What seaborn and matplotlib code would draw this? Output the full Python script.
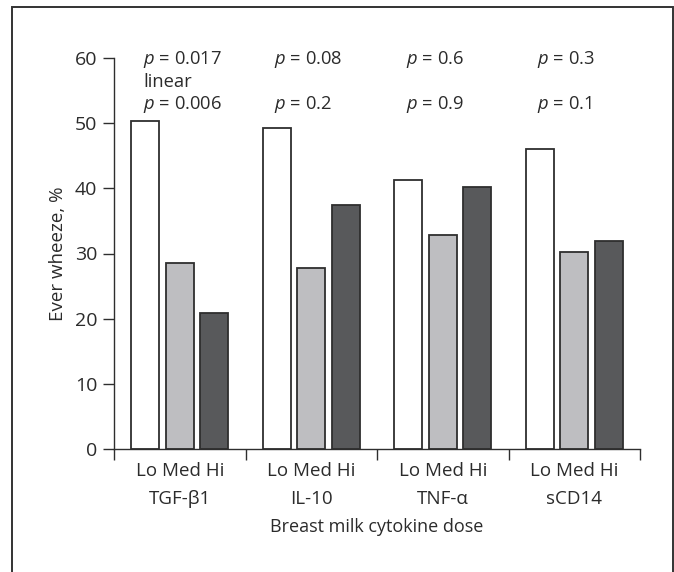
import matplotlib
matplotlib.use("Agg")
import matplotlib.pyplot as plt
import seaborn as sns
import pandas as pd
from matplotlib.patches import Rectangle

cytokines = ["TGF-\u03b21", "IL-10", "TNF-\u03b1", "sCD14"]
doses = ["Lo", "Med", "Hi"]
lo_vals = [50.3, 49.2, 41.3, 46.0]
med_vals = [28.6, 27.8, 32.9, 30.3]
hi_vals = [20.8, 37.5, 40.2, 31.9]
p_overall = ["0.017", "0.08", "0.6", "0.3"]
p_second = ["0.006", "0.2", "0.9", "0.1"]
yticks = [0, 10, 20, 30, 40, 50, 60]

rows = []
for i, c in enumerate(cytokines):
    for d, vals in zip(doses, [lo_vals, med_vals, hi_vals]):
        rows.append({"cytokine": c, "dose": d, "value": vals[i]})
df = pd.DataFrame(rows)

sns.set_theme(style="ticks")
plt.rcParams["font.family"] = ["Open Sans", "DejaVu Sans"]
plt.rcParams["mathtext.fontset"] = "custom"
plt.rcParams["mathtext.it"] = "Open Sans:italic"
plt.rcParams["mathtext.rm"] = "Open Sans"

txt = "#2b2b2b"
edge = "#2e2e2e"
fig = plt.figure(figsize=(6.74, 5.72), dpi=100)
ax = fig.add_axes([114/674, 1 - 449/572, (640 - 114)/674, (449 - 58)/572])

sns.barplot(data=df, x="cytokine", y="value", hue="dose", hue_order=doses,
            order=cytokines, palette=["#ffffff", "#bdbec1", "#58595b"],
            edgecolor=edge, linewidth=1.3, width=0.786, gap=0.187,
            legend=False, ax=ax)

ax.set_xlim(-0.5, 3.5)
ax.set_ylim(0, 60)
ax.set_yticks(yticks)
ax.tick_params(axis="y", direction="out", length=8, width=1, color=edge,
               labelsize=14, labelcolor=txt, pad=4)
ax.set_xticks(range(4))
ax.set_xticklabels(["Lo Med Hi\n" + c for c in cytokines], linespacing=1.75)
ax.tick_params(axis="x", which="major", length=0, labelsize=13.5, labelcolor=txt, pad=9)
ax.set_xticks([-0.5, 0.5, 1.5, 2.5, 3.5], minor=True)
ax.tick_params(axis="x", which="minor", direction="out", length=8, width=1, color=edge)

for s in ["top", "right"]:
    ax.spines[s].set_visible(False)
for s in ["left", "bottom"]:
    ax.spines[s].set_color(edge)
    ax.spines[s].set_linewidth(1)

ax.set_ylabel("Ever wheeze, %", fontsize=13.5, color=txt, labelpad=6)
ax.set_xlabel("Breast milk cytokine dose", fontsize=13, color=txt, labelpad=7)

for i in range(4):
    x = i - 0.28
    ax.text(x, 59.8, "$p$ = " + p_overall[i], fontsize=13.2, color=txt, va="center", ha="left")
    ax.text(x, 52.9, "$p$ = " + p_second[i], fontsize=13.2, color=txt, va="center", ha="left")
ax.text(-0.28, 56.3, "linear", fontsize=13.2, color=txt, va="center", ha="left")

fig.patches.append(Rectangle((12/674, -0.05), (672.5 - 12)/674, 1.05 - 7/572,
                             transform=fig.transFigure, fill=False,
                             edgecolor="#333333", linewidth=1.4))

fig.savefig("out.png", dpi=100)
